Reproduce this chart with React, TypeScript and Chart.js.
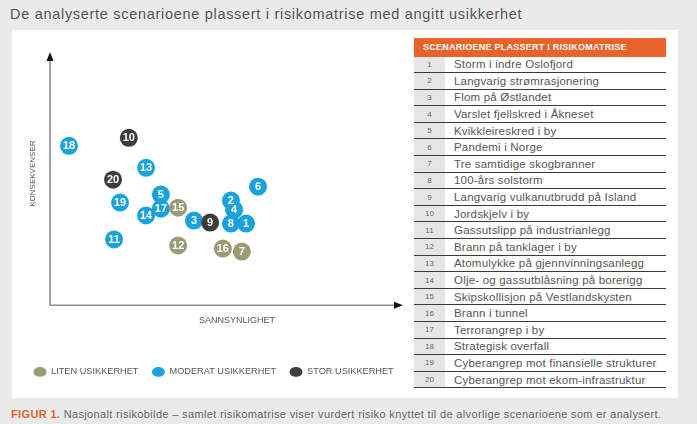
import React, { useEffect, useRef } from "react";
import { Chart, registerables } from "chart.js";

Chart.register(...registerables);

const FONT = '"Liberation Sans", Arial, sans-serif';

const TITLE = "De analyserte scenarioene plassert i risikomatrise med angitt usikkerhet";
const CAPTION_LEAD = "FIGUR 1.";
const CAPTION_TEXT = " Nasjonalt risikobilde – samlet risikomatrise viser vurdert risiko knyttet til de alvorlige scenarioene som er analysert.";
const TABLE_HEADER = "SCENARIOENE PLASSERT I RISIKOMATRISE";
const X_TITLE = "SANNSYNLIGHET";
const Y_TITLE = "KONSEKVENSER";

const scenarioNames = [
  "Storm i indre Oslofjord",
  "Langvarig strømrasjonering",
  "Flom på Østlandet",
  "Varslet fjellskred i Åkneset",
  "Kvikkleireskred i by",
  "Pandemi i Norge",
  "Tre samtidige skogbranner",
  "100-års solstorm",
  "Langvarig vulkanutbrudd på Island",
  "Jordskjelv i by",
  "Gassutslipp på industrianlegg",
  "Brann på tanklager i by",
  "Atomulykke på gjennvinningsanlegg",
  "Olje- og gassutblåsning på borerigg",
  "Skipskollisjon på Vestlandskysten",
  "Brann i tunnel",
  "Terrorangrep i by",
  "Strategisk overfall",
  "Cyberangrep mot finansielle strukturer",
  "Cyberangrep mot ekom-infrastruktur",
];

const seriesLabels = ["LITEN USIKKERHET", "MODERAT USIKKERHET", "STOR USIKKERHET"];

// Liten usikkerhet
const litenIds = [15, 12, 16, 7];
const litenX = [36.4, 36.4, 49.1, 54.5];
const litenY = [38.7, 23.7, 22.5, 21.3];

// Moderat usikkerhet
const moderatIds = [18, 13, 6, 19, 5, 14, 17, 2, 4, 3, 8, 1, 11];
const moderatX = [5.4, 27.3, 59.1, 19.9, 31.5, 27.3, 31.5, 51.4, 52.3, 40.9, 51.4, 55.7, 18.2];
const moderatY = [63.2, 54.5, 47.0, 40.7, 43.9, 35.6, 38.3, 41.5, 37.9, 33.6, 32.4, 32.4, 26.1];

// Stor usikkerhet
const storIds = [10, 20, 9];
const storX = [22.4, 17.9, 45.5];
const storY = [66.4, 49.8, 32.8];

const COLORS = ["#9b9b74", "#1aa2dc", "#3d3d3d"];
const ORANGE = "#e8622b";

const toPoints = (xs: number[], ys: number[]) => xs.map((x, i) => ({ x, y: ys[i] }));

const overlayPlugin = {
  id: "overlay",
  beforeDatasetsDraw(chart: any) {
    const { ctx, chartArea } = chart;
    const { left, right, top, bottom } = chartArea;
    ctx.save();
    ctx.strokeStyle = "#8c8c8c";
    ctx.lineWidth = 1.6;
    ctx.beginPath();
    ctx.moveTo(left, bottom);
    ctx.lineTo(left, top + 6);
    ctx.moveTo(left, bottom);
    ctx.lineTo(right - 6, bottom);
    ctx.stroke();
    ctx.fillStyle = "#111";
    ctx.beginPath();
    ctx.moveTo(left, top - 1);
    ctx.lineTo(left - 3.5, top + 8);
    ctx.lineTo(left + 3.5, top + 8);
    ctx.closePath();
    ctx.fill();
    ctx.beginPath();
    ctx.moveTo(right + 1, bottom);
    ctx.lineTo(right - 8, bottom - 3.5);
    ctx.lineTo(right - 8, bottom + 3.5);
    ctx.closePath();
    ctx.fill();

    ctx.fillStyle = "#555";
    ctx.textAlign = "center";
    ctx.textBaseline = "middle";
    ctx.font = `9px ${FONT}`;
    ctx.fillText(X_TITLE, left + (right - left) * 0.531, bottom + 15);
    ctx.translate(left - 17, top + (bottom - top) * 0.478);
    ctx.rotate(-Math.PI / 2);
    ctx.font = `8px ${FONT}`;
    ctx.fillText(Y_TITLE, 0, 0);
    ctx.restore();
  },
  afterDatasetDraw(chart: any, args: any) {
    const { ctx } = chart;
    const ds = chart.data.datasets[args.index];
    ctx.save();
    ctx.fillStyle = "#fff";
    ctx.textAlign = "center";
    ctx.textBaseline = "middle";
    ctx.font = `bold 11px ${FONT}`;
    args.meta.data.forEach((pt: any, i: number) => {
      ctx.fillText(String(ds.ids[i]), pt.x, pt.y + 0.5);
    });
    ctx.restore();
  },
};

const hiddenAxis = {
  ticks: { display: false },
  grid: { display: false, drawTicks: false },
  border: { display: false },
};

function MatrixChart() {
  const ref = useRef<HTMLCanvasElement | null>(null);
  useEffect(() => {
    if (!ref.current) return;
    Chart.defaults.font.family = FONT;
    const mk = (label: string, ids: number[], xs: number[], ys: number[], color: string, order: number) => ({
      label,
      ids,
      data: toPoints(xs, ys),
      backgroundColor: color,
      borderColor: color,
      borderWidth: 0,
      pointRadius: 9,
      pointHoverRadius: 9,
      order,
    });
    const chart = new Chart(ref.current, {
      type: "scatter",
      data: {
        datasets: [
          mk(seriesLabels[0], litenIds, litenX, litenY, COLORS[0], 2),
          mk(seriesLabels[1], moderatIds, moderatX, moderatY, COLORS[1], 3),
          mk(seriesLabels[2], storIds, storX, storY, COLORS[2], 1),
        ] as any,
      },
      options: {
        animation: false,
        responsive: true,
        maintainAspectRatio: false,
        layout: { padding: { left: 8, right: 0, top: 23, bottom: 11.5 } },
        scales: {
          x: {
            type: "linear",
            min: 0,
            max: 100,
            ...hiddenAxis,
            afterFit: (s: any) => {
              s.height = 48.5;
            },
          },
          y: {
            type: "linear",
            min: 0,
            max: 100,
            ...hiddenAxis,
            afterFit: (s: any) => {
              s.width = 30;
            },
          },
          yRight: {
            type: "linear",
            position: "right",
            display: true,
            min: 0,
            max: 100,
            ...hiddenAxis,
            afterFit: (s: any) => {
              s.width = 10;
            },
          },
        },
        plugins: {
          tooltip: { enabled: false },
          legend: {
            position: "bottom",
            align: "start",
            labels: {
              usePointStyle: true,
              pointStyle: "circle",
              pointStyleWidth: 13,
              boxHeight: 7,
              padding: 13.5,
              color: "#555",
              font: { size: 9.2, family: FONT },
              sort: (a: any, b: any) => a.datasetIndex - b.datasetIndex,
            },
          },
        },
      } as any,
      plugins: [overlayPlugin],
    });
    return () => chart.destroy();
  }, []);
  return (
    <div style={{ position: "absolute", left: 0, top: 0, width: 400, height: 368 }}>
      <canvas ref={ref} />
    </div>
  );
}

export default function App() {
  const rowH = 16.6;
  return (
    <div
      style={{
        position: "fixed",
        left: 0,
        top: 0,
        width: 697,
        height: 424,
        background: "#eaeaea",
        fontFamily: FONT,
        overflow: "hidden",
      }}
    >
      <div
        style={{
          position: "absolute",
          left: 10,
          top: 5,
          fontSize: 14.5,
          letterSpacing: "0.7px",
          lineHeight: "18px",
          color: "#555",
          whiteSpace: "nowrap",
        }}
      >
        {TITLE}
      </div>
      <div style={{ position: "absolute", left: 12, top: 30, width: 666, height: 368, background: "#fff" }}>
        <MatrixChart />
        <div style={{ position: "absolute", left: 402, top: 8, width: 252 }}>
          <div
            style={{
              height: 18.5,
              background: ORANGE,
              color: "#fff",
              fontWeight: "bold",
              fontSize: 9,
              letterSpacing: "0.25px",
              lineHeight: "18.5px",
              paddingLeft: 9,
              whiteSpace: "nowrap",
            }}
          >
            {TABLE_HEADER}
          </div>
          {scenarioNames.map((name, i) => (
            <div
              key={i}
              style={{
                position: "relative",
                height: rowH,
                boxSizing: "border-box",
                borderBottom: "1px solid #3a3a3a",
                display: "flex",
                alignItems: "center",
              }}
            >
              <div
                style={{
                  width: 31,
                  height: "100%",
                  background: "#e6e6e6",
                  color: "#666",
                  fontSize: 8,
                  display: "flex",
                  alignItems: "center",
                  justifyContent: "center",
                }}
              >
                {i + 1}
              </div>
              <div style={{ paddingLeft: 9, fontSize: 11.5, letterSpacing: "0.2px", color: "#555", whiteSpace: "nowrap" }}>
                {name}
              </div>
            </div>
          ))}
        </div>
      </div>
      <div
        style={{
          position: "absolute",
          left: 11,
          top: 406,
          fontSize: 11,
          letterSpacing: "0.35px",
          lineHeight: "16px",
          color: "#666",
          whiteSpace: "nowrap",
        }}
      >
        <span style={{ color: ORANGE, fontWeight: "bold" }}>{CAPTION_LEAD}</span>
        {CAPTION_TEXT}
      </div>
    </div>
  );
}
